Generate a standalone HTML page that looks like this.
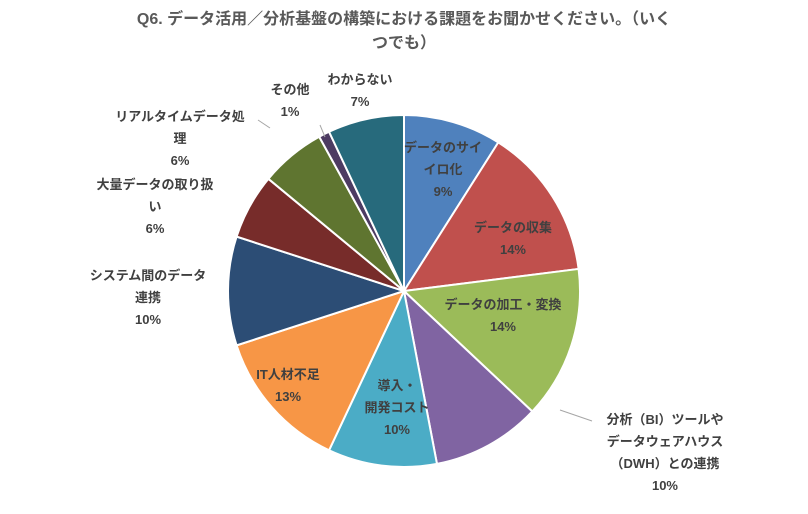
<!DOCTYPE html>
<html><head><meta charset="utf-8">
<style>
html,body{margin:0;padding:0;background:#fff;}
#wrap{position:relative;width:808px;height:514px;overflow:hidden;font-family:"Liberation Sans","Noto Sans CJK JP",sans-serif;}
.title{position:absolute;left:0;width:808px;text-align:center;font-size:16px;font-weight:bold;color:#595959;line-height:24px;top:8px;}
.lbl{position:absolute;transform:translateX(-50%);text-align:center;font-size:13px;font-weight:bold;color:#404040;line-height:22px;white-space:nowrap;}
</style></head><body>
<div id="wrap">
<div class="title">Q6. データ活用／分析基盤の構築における課題をお聞かせください。（いく<br>つでも）</div>
<svg id="pie" width="808" height="514" style="position:absolute;left:0;top:0"></svg>
<div id="labels"></div>
</div>
<script>
const categories=["データのサイロ化","データの収集","データの加工・変換","分析（BI）ツールやデータウェアハウス（DWH）との連携","導入・開発コスト","IT人材不足","システム間のデータ連携","大量データの取り扱い","リアルタイムデータ処理","その他","わからない"];
const values=[9,14,14,10,10,13,10,6,6,1,7];
const valueLabels=["9%","14%","14%","10%","10%","13%","10%","6%","6%","1%","7%"];
const colors=["#4f81bd","#c0504d","#9bbb59","#8064a2","#4bacc6","#f79646","#2c4d75","#772c2a","#5f7530","#4d3b62","#276a7c"];
const labelLines=[["データのサイ","イロ化"],["データの収集"],["データの加工・変換"],["分析（BI）ツールや","データウェアハウス","（DWH）との連携"],["導入・","開発コスト"],["IT人材不足"],["システム間のデータ","連携"],["大量データの取り扱","い"],["リアルタイムデータ処","理"],["その他"],["わからない"]];
const labelPos=[[443,137],[513,217],[503,294],[665,409],[397,375],[288,364],[148,265],[155,174],[180,106],[290,79],[360,69]];
const cx=404,cy=291,r=176;
const svg=document.getElementById('pie');
const NS="http://www.w3.org/2000/svg";
const total=values.reduce((a,b)=>a+b,0);
function pt(a,rr){return [cx+rr*Math.sin(a),cy-rr*Math.cos(a)];}
let a0=0;
values.forEach((v,i)=>{
  const a1=a0+v/total*2*Math.PI;
  const p0=pt(a0,r),p1=pt(a1,r);
  const large=(a1-a0)>Math.PI?1:0;
  const p=document.createElementNS(NS,'path');
  p.setAttribute('d',`M${cx},${cy} L${p0[0]},${p0[1]} A${r},${r} 0 ${large} 1 ${p1[0]},${p1[1]} Z`);
  p.setAttribute('fill',colors[i]);
  p.setAttribute('stroke','#fff');
  p.setAttribute('stroke-width','2');
  
  
  svg.appendChild(p);
  a0=a1;
});
// leader lines
const leaders=[[[560,410],[592,421]],[[270,128],[258,120]],[[325,137],[320,125]]];
leaders.forEach(l=>{
  const ln=document.createElementNS(NS,'polyline');
  ln.setAttribute('points',l.map(q=>q.join(',')).join(' '));
  ln.setAttribute('stroke','#a6a6a6');ln.setAttribute('fill','none');
  
  
  svg.appendChild(ln);
});
const lw=document.getElementById('labels');
categories.forEach((c,i)=>{
  const d=document.createElement('div');
  d.className='lbl';
  d.style.left=labelPos[i][0]+'px';
  d.style.top=labelPos[i][1]+'px';
  d.innerHTML=labelLines[i].join('<br>')+'<br>'+valueLabels[i];
  
  
  lw.appendChild(d);
});
</script>
</body></html>
